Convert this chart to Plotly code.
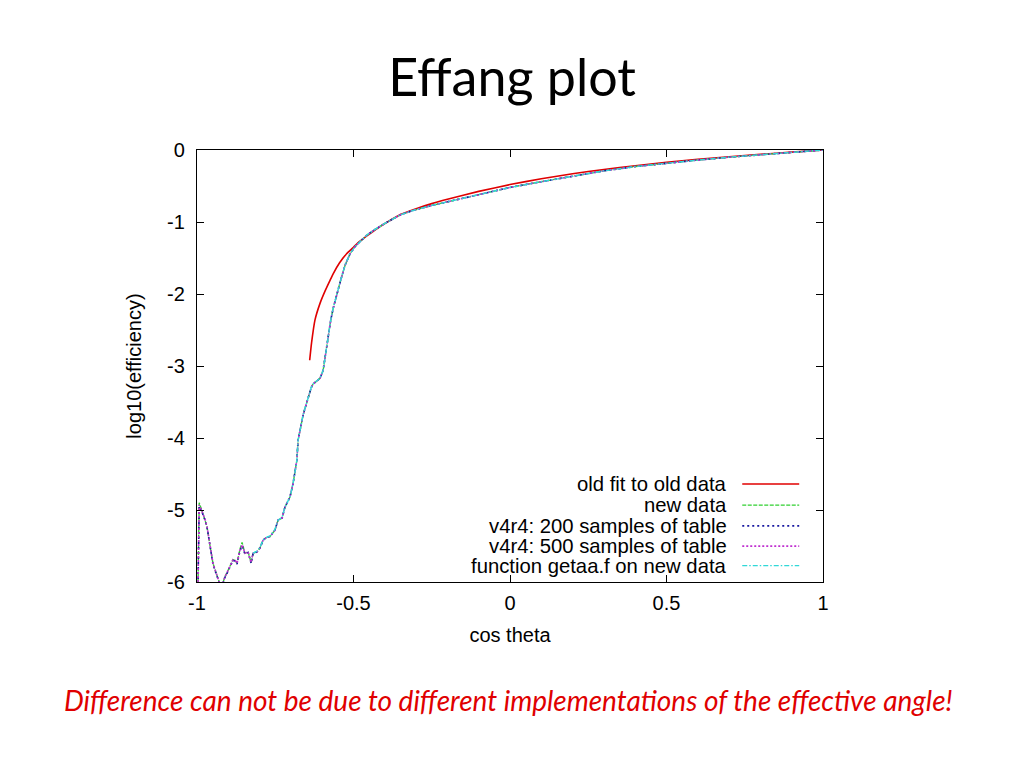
import plotly.graph_objects as go

# ---------------- data ----------------
# old fit to old data
old_fit_x = [-0.640, -0.634, -0.623, -0.607, -0.590, -0.575, -0.565, -0.545, -0.522, -0.500,
             -0.486, -0.469, -0.440, -0.410, -0.350, -0.300, -0.250, -0.200, -0.100, 0.000,
             0.100, 0.200, 0.300, 0.400, 0.500, 0.600, 0.700, 0.800, 0.900, 1.000]
old_fit_y = [-2.92, -2.68, -2.36, -2.13, -1.95, -1.81, -1.72, -1.57, -1.44, -1.35,
             -1.29, -1.23, -1.14, -1.05, -0.895, -0.815, -0.745, -0.685, -0.575, -0.48,
             -0.40, -0.33, -0.27, -0.22, -0.17, -0.13, -0.095, -0.06, -0.03, 0.0]

# new data / v4r4 samples share the same cos theta grid
cos_x = [-1.000, -0.993, -0.985, -0.975, -0.968, -0.958, -0.949, -0.940, -0.933, -0.925,
         -0.918, -0.911, -0.903, -0.895, -0.885, -0.878, -0.872, -0.863, -0.856, -0.847,
         -0.837, -0.827, -0.821, -0.808, -0.799, -0.789, -0.778, -0.767, -0.751, -0.741,
         -0.728, -0.719, -0.703, -0.693, -0.686, -0.681, -0.677, -0.671, -0.661, -0.655,
         -0.642, -0.635, -0.629, -0.615, -0.607, -0.597, -0.589, -0.581, -0.573, -0.565,
         -0.555, -0.543, -0.527, -0.511, -0.495, -0.479, -0.457, -0.430, -0.400, -0.350,
         -0.310, -0.250, -0.200, -0.100, 0.000, 0.100, 0.200, 0.300, 0.400, 0.500,
         0.600, 0.700, 0.800, 0.900, 1.000]
new_data_y = [-7.00, -4.90, -5.00, -5.12, -5.23, -5.51, -5.74, -5.86, -5.95, -6.05,
              -6.02, -5.93, -5.86, -5.79, -5.69, -5.70, -5.74, -5.55, -5.45, -5.60,
              -5.58, -5.73, -5.60, -5.58, -5.53, -5.42, -5.38, -5.37, -5.28, -5.14,
              -5.11, -4.96, -4.82, -4.63, -4.45, -4.31, -4.03, -3.89, -3.68, -3.59,
              -3.38, -3.30, -3.25, -3.20, -3.17, -3.06, -2.82, -2.58, -2.37, -2.20,
              -2.02, -1.84, -1.60, -1.44, -1.34, -1.27, -1.18, -1.10, -1.02, -0.90,
              -0.84, -0.77, -0.72, -0.61, -0.52, -0.44, -0.36, -0.29, -0.23, -0.18,
              -0.14, -0.10, -0.07, -0.035, 0.0]
v4r4_200_y = [-7.00, -4.95, -5.02, -5.13, -5.24, -5.52, -5.75, -5.87, -5.96, -6.06,
              -6.03, -5.94, -5.87, -5.80, -5.70, -5.71, -5.75, -5.57, -5.50, -5.61,
              -5.59, -5.74, -5.61, -5.58, -5.53, -5.42, -5.38, -5.37, -5.28, -5.14,
              -5.11, -4.96, -4.82, -4.63, -4.45, -4.31, -4.03, -3.89, -3.68, -3.59,
              -3.38, -3.30, -3.25, -3.20, -3.17, -3.06, -2.82, -2.58, -2.37, -2.20,
              -2.02, -1.84, -1.60, -1.44, -1.34, -1.27, -1.18, -1.10, -1.02, -0.90,
              -0.84, -0.77, -0.72, -0.61, -0.52, -0.44, -0.36, -0.29, -0.23, -0.18,
              -0.14, -0.10, -0.07, -0.035, 0.0]
v4r4_500_y = [-7.00, -4.93, -5.01, -5.12, -5.23, -5.51, -5.74, -5.86, -5.95, -6.05,
              -6.02, -5.93, -5.86, -5.79, -5.69, -5.70, -5.74, -5.56, -5.48, -5.60,
              -5.58, -5.73, -5.60, -5.58, -5.53, -5.42, -5.38, -5.37, -5.28, -5.14,
              -5.11, -4.96, -4.82, -4.63, -4.45, -4.31, -4.03, -3.89, -3.68, -3.59,
              -3.38, -3.30, -3.25, -3.20, -3.17, -3.06, -2.82, -2.58, -2.37, -2.20,
              -2.02, -1.84, -1.60, -1.44, -1.34, -1.27, -1.18, -1.10, -1.02, -0.90,
              -0.84, -0.77, -0.72, -0.61, -0.52, -0.44, -0.36, -0.29, -0.23, -0.18,
              -0.14, -0.10, -0.07, -0.035, 0.0]

# function getaa.f on new data (defined from about -0.82 upward)
getaa_x = [-0.821, -0.808, -0.799, -0.789, -0.778, -0.767, -0.751, -0.741,
           -0.728, -0.719, -0.703, -0.693, -0.686, -0.681, -0.677, -0.671, -0.661, -0.655,
           -0.642, -0.635, -0.629, -0.615, -0.607, -0.597, -0.589, -0.581, -0.573, -0.565,
           -0.555, -0.543, -0.527, -0.511, -0.495, -0.479, -0.457, -0.430, -0.400, -0.350,
           -0.310, -0.250, -0.200, -0.100, 0.000, 0.100, 0.200, 0.300, 0.400, 0.500,
           0.600, 0.700, 0.800, 0.900, 1.000]
getaa_y = [-5.60, -5.57, -5.52, -5.42, -5.38, -5.36, -5.27, -5.14,
           -5.10, -4.96, -4.82, -4.63, -4.45, -4.31, -4.03, -3.89, -3.68, -3.59,
           -3.38, -3.30, -3.25, -3.20, -3.17, -3.06, -2.82, -2.58, -2.37, -2.20,
           -2.02, -1.84, -1.60, -1.44, -1.34, -1.27, -1.18, -1.10, -1.02, -0.90,
           -0.84, -0.77, -0.72, -0.61, -0.52, -0.44, -0.36, -0.29, -0.23, -0.18,
           -0.14, -0.10, -0.07, -0.035, 0.0]

legend_labels = ["old fit to old data", "new data", "v4r4: 200 samples of table",
                 "v4r4: 500 samples of table", "function getaa.f on new data"]
x_ticks = [-1, -0.5, 0, 0.5, 1]
x_tick_text = ["-1", "-0.5", "0", "0.5", "1"]
y_ticks = [0, -1, -2, -3, -4, -5, -6]
y_tick_text = ["0", "-1", "-2", "-3", "-4", "-5", "-6"]

# ---------------- styles ----------------
colors = ["#e00000", "#30d030", "#1818a0", "#c030d0", "#30d8d8"]
dashes = ["solid", "4px,1.5px", "2px,3px", "2px,2px", "5px,2px,1.5px,2px"]
widths = [1.6, 1.4, 1.6, 1.6, 1.4]
shapes = ["spline", "linear", "linear", "linear", "linear"]

# the page body has an 8px margin, so the figure is 1008x752 placed at (8, 8)
FIG_W, FIG_H = 1008, 752
M_L, M_T = 189, 142
PLOT_W, PLOT_H = 626, 432

series = [(old_fit_x, old_fit_y), (cos_x, new_data_y), (cos_x, v4r4_200_y),
          (cos_x, v4r4_500_y), (getaa_x, getaa_y)]

fig = go.Figure()
for (xs, ys), name, c, d, w, s in zip(series, legend_labels, colors, dashes, widths, shapes):
    fig.add_trace(go.Scatter(x=xs, y=ys, mode="lines", name=name,
                             line=dict(color=c, dash=d, width=w, shape=s, smoothing=0.5),
                             showlegend=False))

# gnuplot-style legend: right-aligned text, sample line on the right
legend_rows = [0.227, 0.178, 0.130, 0.083, 0.038]
for lab, c, d, w, yy in zip(legend_labels, colors, dashes, widths, legend_rows):
    fig.add_annotation(x=0.849, y=yy, xref="paper", yref="paper", text=lab,
                       showarrow=False, xanchor="right", yanchor="middle", borderpad=0,
                       font=dict(family="Liberation Sans", size=20.3, color="#000000"))
    fig.add_shape(type="line", xref="paper", yref="paper", x0=0.871, x1=0.962,
                  y0=yy, y1=yy, line=dict(color=c, dash=d, width=w))

fig.add_annotation(x=0.498, y=(582 - 700) / PLOT_H, xref="paper", yref="paper",
                   text="<i>Difference can not be due to different implementations of the effective angle!</i>",
                   showarrow=False, xanchor="center", yanchor="middle",
                   font=dict(family="Lato", size=28, color="#e00000"))

fig.update_layout(
    width=FIG_W, height=FIG_H,
    paper_bgcolor="white", plot_bgcolor="white",
    margin=dict(l=M_L, r=FIG_W - M_L - PLOT_W, t=M_T, b=FIG_H - M_T - PLOT_H, pad=0),
    title=dict(text="Effang plot", font=dict(family="Lato", size=52, color="#000000"),
               x=0.5, xanchor="center", xref="container",
               y=1 - 70 / FIG_H, yanchor="middle", yref="container"),
    xaxis=dict(range=[-1, 1], tickvals=x_ticks, ticktext=x_tick_text,
               ticks="inside", ticklen=7, tickcolor="#000000", showgrid=False, zeroline=False,
               showline=True, linecolor="#000000", linewidth=1.2, mirror="ticks",
               tickfont=dict(family="Liberation Sans", size=20, color="#000000"),
               ticklabelstandoff=3,
               title=dict(text="cos theta", standoff=14,
                          font=dict(family="Liberation Sans", size=20, color="#000000"))),
    yaxis=dict(range=[-6, 0], tickvals=y_ticks, ticktext=y_tick_text,
               ticks="inside", ticklen=7, tickcolor="#000000", showgrid=False, zeroline=False,
               showline=True, linecolor="#000000", linewidth=1.2, mirror="ticks",
               tickfont=dict(family="Liberation Sans", size=20, color="#000000"),
               ticklabelstandoff=7,
               title=dict(text="log10(efficiency)", standoff=20,
                          font=dict(family="Liberation Sans", size=20, color="#000000"))),
)

fig.write_html("out.html")
